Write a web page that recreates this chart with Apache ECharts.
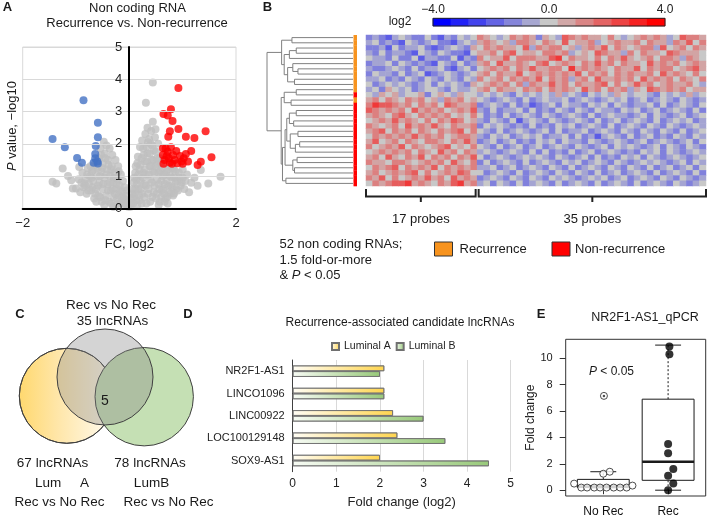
<!DOCTYPE html>
<html><head><meta charset="utf-8">
<script src="https://cdn.jsdelivr.net/npm/echarts@6/dist/echarts.min.js"></script>
<style>html,body{margin:0;padding:0;background:#fff}#c{width:709px;height:522px}</style>
</head><body><div id="c"></div>
<script>
const FONT = '"Liberation Sans", Arial, Helvetica, sans-serif';

// ---------------- Panel A: volcano ----------------
const volcanoGray = [
[-0.02,0.05],[-0.04,0.2],[-0.06,0.4],[-0.08,0.12],[-0.09,0.65],[-0.1,0.3],[-0.12,0.85],[-0.13,0.5],[-0.15,0.2],[-0.16,1.05],[-0.18,0.7],[-0.2,0.4],[-0.21,1.3],[-0.22,0.9],[-0.24,0.12],[-0.25,0.6],[-0.26,1.5],[-0.28,1.1],[-0.3,0.35],[-0.3,0.8],[-0.32,1.65],[-0.33,1.3],[-0.35,0.55],[-0.36,1.0],[-0.37,1.85],[-0.38,0.2],[-0.4,1.5],[-0.41,0.75],[-0.42,1.2],[-0.43,1.95],[-0.44,0.4],[-0.46,1.7],[-0.47,0.95],[-0.48,2.06],[-0.5,1.4],[-0.5,0.6],[-0.52,0.2],[-0.53,1.15],[-0.54,1.85],[-0.56,0.8],[-0.57,1.55],[-0.58,0.4],[-0.6,1.25],[-0.61,1.0],[-0.63,0.6],[-0.65,1.35],[-0.66,0.3],[-0.68,0.85],[-0.7,1.15],[-0.72,0.55],[-0.74,1.0],[-0.76,0.75],[-0.78,1.25],[-0.8,0.45],[-0.82,0.9],[-0.86,0.65],[-0.88,1.1],
[-0.05,0.55],[-0.07,0.25],[-0.11,0.15],[-0.14,0.35],[-0.17,0.55],[-0.19,0.15],[-0.2,1.15],[-0.23,0.3],[-0.24,0.75],[-0.27,0.45],[-0.29,0.95],[-0.31,0.6],[-0.34,1.2],[-0.34,0.15],[-0.36,0.8],[-0.39,1.35],[-0.4,0.55],[-0.43,1.05],[-0.45,0.25],[-0.45,1.55],[-0.49,0.75],[-0.51,1.25],[-0.53,1.65],[-0.55,0.35],[-0.55,1.0],[-0.59,0.7],[-0.62,1.45],[-0.64,0.45],[-0.67,1.2],[-0.69,0.65],[-0.71,0.95],[-0.73,1.3],[-0.77,0.55],[-0.79,1.05],[-0.83,0.7],[-0.9,0.8],[-0.62,0.2],[-0.47,0.1],[-0.3,0.05],
[-1.44,0.82],[-1.37,0.77],[-1.25,1.23],[-1.09,0.87],[-1.06,0.61],[-1.0,0.61],[-0.94,1.28],[-0.84,0.77],[-0.95,0.9],[-1.15,1.0],[-0.92,0.5],
[0.02,0.05],[0.04,0.3],[0.06,0.6],[0.07,0.15],[0.09,0.95],[0.1,0.45],[0.12,1.3],[0.13,0.25],[0.14,0.75],[0.16,1.6],[0.17,1.05],[0.18,0.4],[0.2,1.9],[0.21,1.35],[0.22,0.6],[0.23,0.15],[0.24,2.1],[0.25,0.95],[0.27,1.65],[0.28,0.35],[0.29,1.2],[0.3,2.3],[0.31,0.7],[0.32,1.9],[0.33,1.45],[0.34,2.5],[0.35,0.45],[0.36,1.05],[0.37,2.15],[0.38,1.7],[0.39,0.2],[0.4,1.3],[0.41,2.4],[0.42,0.8],[0.43,1.95],[0.44,2.68],[0.45,1.5],[0.46,0.5],[0.47,1.1],[0.48,2.2],[0.5,1.75],[0.5,0.3],[0.52,0.9],[0.53,1.35],[0.54,2.0],[0.56,0.6],[0.57,1.55],[0.58,1.15],[0.6,0.35],[0.6,0.85],[0.62,1.25],[0.64,0.6],[0.66,1.05],[0.68,0.3],[0.7,0.85],[0.72,1.2],[0.74,0.5],[0.76,1.0],[0.78,0.7],[0.8,1.25],[0.82,0.4],[0.84,0.95],[0.86,1.15],[0.88,0.6],[0.9,0.85],[0.93,1.1],[0.96,0.7],
[0.03,0.15],[0.05,0.45],[0.08,0.35],[0.08,0.8],[0.11,0.6],[0.11,1.1],[0.13,0.9],[0.15,0.1],[0.15,1.4],[0.17,0.6],[0.19,1.2],[0.19,0.25],[0.21,0.85],[0.23,1.55],[0.24,0.45],[0.26,1.85],[0.26,1.1],[0.28,0.75],[0.29,1.45],[0.31,1.05],[0.32,0.15],[0.34,1.7],[0.35,2.05],[0.36,0.6],[0.38,1.3],[0.39,0.9],[0.4,2.0],[0.42,1.5],[0.43,0.35],[0.44,1.15],[0.46,1.8],[0.47,0.7],[0.49,1.3],[0.49,2.45],[0.51,0.45],[0.52,1.55],[0.55,0.75],[0.55,1.1],[0.57,0.2],[0.59,1.4],[0.61,0.55],[0.63,1.0],[0.65,0.45],[0.67,0.75],[0.69,1.1],[0.71,0.35],[0.73,0.7],[0.75,1.3],[0.77,0.45],[0.79,0.95],[0.81,0.65],[0.83,1.2],[0.87,0.85],[0.91,0.55],[0.94,0.95],[0.98,0.8],[1.05,0.85],[0.55,0.1],[0.72,0.15],
[0.44,3.9],[0.31,3.27],
[1.71,0.98],[1.48,0.77],[1.16,0.79],[1.0,0.95],[1.03,0.6],[1.34,1.19],[1.08,1.05],[0.84,0.46],[0.66,0.2],[1.12,0.5],[1.22,0.95],[1.28,0.7],[1.0,1.2]
];
const volcanoBlue = [[-0.86,3.35],[-0.59,2.65],[-0.59,2.2],[-1.44,2.15],[-1.21,1.89],[-0.63,1.93],[-0.98,1.56],[-0.89,1.41],[-0.64,1.68],[-0.67,1.41],[-0.59,1.39],[-0.64,1.55],[-0.6,1.45]];
const volcanoRed = [[0.92,3.73],[0.78,3.07],[0.64,2.92],[0.72,2.88],[0.81,2.71],[0.92,2.46],[0.76,2.39],[0.73,2.22],[1.06,2.22],[1.22,2.18],[1.43,2.39],[0.63,1.86],[0.78,1.89],[1.16,1.78],[1.54,1.58],[1.34,1.44],[1.28,1.34],
[0.63,1.65],[0.66,1.5],[0.64,1.38],[0.72,1.75],[0.74,1.55],[0.76,1.42],[0.82,1.65],[0.85,1.5],[0.9,1.4],[0.95,1.62],[0.98,1.45],[1.02,1.55],[1.06,1.68],[1.1,1.45],[0.7,1.62],[0.88,1.78],[0.68,1.85],[1.0,1.38],[0.8,1.38]];

// ---------------- Panel B: heatmap ----------------
// digit d -> log2 value (d-4)*0.72 ; left block = 17 probes, right block = 35 probes
const heatLeft = [
"23213 43224 21324 34","34232 14323 42213 43","22314 23342 12343 25","32423 32143 24322 14",
"43324 22413 32241 32","23342 43232 14324 23","32234 32423 34213 42","24332 42341 23432 34",
"33423 24324 32432 43","42343 43234 24343 25","34254 34234 43243 34","43545 34452 45435 44",
"56465 46564 53656 45","68776 56465 64765 56","76565 64756 56456 57","56546 75465 65645 46",
"45657 56546 46576 45","65456 47565 75465 56","56746 56465 46567 46","46565 65756 56456 65",
"57456 46546 65465 75","64565 74654 56745 46","45656 56465 47564 65","56475 46574 65646 57",
"65546 65456 56475 46","46567 46565 74656 56","56456 56746 45657 64","65746 45657 56475 65",
"46567 78565 46578 56"];
const heatRight = [
"65434 65652 54376 56554 64345 65653 47665","56545 36654 65474 55634 56556 46553 65746",
"46565 54736 56645 35657 46545 66374 56465","55646 74554 66563 45476 55364 65547 65554",
"64557 46665 57846 55464 65754 56466 53654","56475 56546 74565 46575 64655 47565 64565",
"45656 46575 56648 56565 46557 46566 45675","56465 57456 56565 74656 46565 56475 65464",
"64564 65657 46563 56475 56564 75656 46546","45656 46365 57564 65567 46457 56456 55643",
"56465 54656 46565 47564 65635 47656 56455","34343 24343 43534 32434 35434 43243 43534",
"43234 32423 43342 34323 43423 42343 24323","23432 42312 34243 32434 24323 34242 34324",
"32423 34242 32432 43243 32434 23423 43242","42324 23432 43234 32423 43323 42432 34234",
"32432 41343 24323 43242 34234 32423 43423","24343 23242 32434 23432 42343 24324 32343",
"43242 34323 42423 34234 32432 43243 24234","32434 23434 23342 42313 43242 34232 43243",
"23423 42324 34243 32432 34323 42343 23424","43242 34234 23432 43234 24343 23424 32432",
"34323 43242 42324 23423 43232 43424 32343","42343 23434 32432 34242 32434 24323 43234",
"24234 32423 43243 42343 24323 43432 34243","33423 42343 24324 23432 43243 24234 23424",
"42343 24234 32432 43242 34234 32423 43242","23432 43243 24343 23434 23423 43243 24323",
"34243 24234 32423 43242 34324 23432 43234"];
const rowGroups = "RRRRRRRRRRRNRNNNNNNNNNNNNNNNN"; // R = Recurrence, N = Non-recurrence
const dendroTree = [1.0,
  [0.83, [0.71,0,1], [0.8,[0.74,[0.66,2,3],4],[0.76,[0.7,5,[0.64,6,7]],[0.68,8,9]]]],
  [0.835, [0.8,[0.66,10,11],[0.72,12,13]],
    [0.82,[0.79,[0.77,[0.74,[0.66,14,15],[0.69,16,17]],[0.73,[0.64,18,19],[0.67,[0.62,20,21],22]]],[0.7,[0.65,23,24],[0.68,25,26]]],[0.78,27,28]]]];
const colorbarSteps = 13;
const probeGroups = [["17 probes", 0, 16], ["35 probes", 17, 51]];

// ---------------- Panel C: Venn ----------------
const vennCircles = [ // [cx, cy, r] in panel units, drawing order
  [66.8, 105.8, 47.5, 'LumA'],
  [144.2, 106.7, 49.2, 'LumB'],
  [105, 87, 48, 'RecNoRec']];

// ---------------- Panel D: bars ----------------
const dCategories = ['NR2F1-AS1','LINCO1096','LINC00922','LOC100129148','SOX9-AS1'];
const lumA = [2.1, 2.1, 2.3, 2.4, 2.0];
const lumB = [2.0, 2.1, 3.0, 3.5, 4.5];

// ---------------- Panel E: box plot ----------------
const eCategories = ['No Rec', 'Rec'];
const noRecX = [0.55,0.66,0.75,0.86,0.95,1.05,1.16,1.26,1.36,1.45,1.0,1.1,1.01];
const noRecY = [0.5,0.2,0.2,0.2,0.2,0.2,0.2,0.2,0.2,0.35,1.25,1.4,7.15];
const recX = [2.02,2.02,2.0,2.0,2.08,2.0,2.08,2.0];
const recY = [10.9,10.3,3.5,2.8,1.6,1.1,0.5,0.0];
const boxStats = [[1,0.18,0.2,0.28,0.82,1.4],[2,0.0,0.75,2.15,6.9,11.0]]; // [x,min,q1,med,q3,max]
const eYTicks = [0,2,4,6,8,10];

// ---------------- build ----------------
const chart = echarts.init(document.getElementById('c'), null, {renderer:'canvas'});

const heatData = [];
for (let r = 0; r < heatLeft.length; r++) {
  const s = (heatLeft[r] + heatRight[r]).replace(/\s/g,'').padEnd(52,'4').slice(0,52);
  for (let c = 0; c < 52; c++) heatData.push([c, r, (parseInt(s[c]) - 4) * 0.72]);
}
const cbData = [];
for (let i = 0; i < colorbarSteps; i++) cbData.push([i, 0, -4 + 8 * i / (colorbarSteps - 1)]);

const dendroLines = [];
function walk(n) {
  if (typeof n === 'number') return {h: 0, y: n};
  const a = walk(n[1]), b = walk(n[2]);
  dendroLines.push({coords: [[a.h, a.y],[n[0], a.y],[n[0], b.y],[b.h, b.y]]});
  return {h: n[0], y: (a.y + b.y) / 2};
}
walk(dendroTree);

const rowIdx = [...Array(rowGroups.length).keys()];
const colIdx = [...Array(52).keys()];
const hidden = {show:false};
const hid = (o) => Object.assign({axisLine:hidden, axisTick:hidden, axisLabel:hidden, splitLine:hidden}, o);

const option = {
  animation: false,
  textStyle: {fontFamily: FONT},
  grid: [
    {left:22.7, top:47, width:213.3, height:161.3, show:true, borderColor:'#d9d9d9', borderWidth:1}, // 0 A
    {left:267, top:35, width:86, height:151},      // 1 dendro
    {left:353.5, top:35, width:3.5, height:151},   // 2 side bar
    {left:366, top:35, width:340, height:151},     // 3 heatmap
    {left:433, top:18.3, width:232, height:7.7, show:true, borderColor:'#222', borderWidth:1, z:10}, // 4 colorbar
    {left:0, top:290, width:250, height:232},      // 5 venn
    {left:292.7, top:360, width:218, height:111.7},// 6 D
    {left:565.7, top:339.3, width:140, height:156.7, show:true, borderColor:'#333', borderWidth:1} // 7 E
  ],
  xAxis: [
    {gridIndex:0, type:'value', min:-2, max:2, interval:2, z:10,
      axisLine:{onZero:true, lineStyle:{color:'#000', width:2}}, axisTick:hidden, splitLine:hidden,
      axisLabel:{fontSize:13, color:'#222', margin:9, formatter: v => v < 0 ? '\u2212' + Math.abs(v) : String(v)},
      name:'FC, log2', nameLocation:'middle', nameGap:30, nameTextStyle:{fontSize:13, color:'#222'}},
    hid({gridIndex:1, type:'value', min:0, max:1, inverse:true}),
    hid({gridIndex:2, type:'category', data:['g']}),
    hid({gridIndex:3, type:'category', data:colIdx}),
    hid({gridIndex:4, type:'category', data:[...Array(colorbarSteps).keys()]}),
    {gridIndex:4, type:'value', min:-4, max:4, interval:4, position:'top', axisLine:hidden, axisTick:hidden, splitLine:hidden,
      axisLabel:{fontSize:12, color:'#222', margin:3, formatter: v => (v < 0 ? '\u2212' + Math.abs(v).toFixed(1) : v.toFixed(1))}},
    hid({gridIndex:5, type:'value', min:0, max:250}),
    {gridIndex:6, type:'value', min:0, max:5, interval:1, axisLine:hidden, axisTick:hidden,
      splitLine:{show:true, lineStyle:{color:'#d9d9d9', width:1}},
      axisLabel:{fontSize:12, color:'#222', margin:6},
      name:'Fold change (log2)', nameLocation:'middle', nameGap:24, nameTextStyle:{fontSize:13, color:'#222'}},
    {gridIndex:7, type:'value', min:0.42, max:2.58, axisLine:hidden, splitLine:hidden,
      axisTick:{show:true, customValues:[1,2], length:4, lineStyle:{color:'#333'}},
      axisLabel:{customValues:[1,2], fontSize:12, color:'#111', margin:10, formatter: v => eCategories[Math.round(v)-1] || ''}}
  ],
  yAxis: [
    {gridIndex:0, type:'value', min:0, max:5, interval:1, z:10, offset:-105.6,
      axisLine:{show:true, onZero:false, lineStyle:{color:'#000', width:2}}, axisTick:hidden,
      splitLine:{show:true, lineStyle:{color:'#d9d9d9', width:1}},
      axisLabel:{fontSize:13, color:'#222', margin:6}},
    hid({gridIndex:1, type:'value', min:-0.5, max:rowGroups.length - 0.5, inverse:true}),
    hid({gridIndex:2, type:'category', data:rowIdx, inverse:true}),
    hid({gridIndex:3, type:'category', data:rowIdx, inverse:true}),
    hid({gridIndex:4, type:'category', data:['c']}),
    hid({gridIndex:5, type:'value', min:0, max:232, inverse:true}),
    {gridIndex:6, type:'category', data:dCategories, inverse:true,
      axisLine:{show:true, lineStyle:{color:'#404040', width:1}}, axisTick:hidden,
      axisLabel:{fontSize:11, color:'#222', margin:8}},
    {gridIndex:7, type:'value', min:-0.44, max:11.44, axisLine:hidden, splitLine:hidden,
      axisTick:{show:true, customValues:eYTicks, length:6, lineStyle:{color:'#333'}},
      axisLabel:{customValues:eYTicks, fontSize:11, color:'#222', margin:13},
      name:'Fold change', nameLocation:'middle', nameGap:22, nameTextStyle:{fontSize:12, color:'#222'}}
  ],
  visualMap: [{type:'continuous', show:false, min:-4, max:4, seriesIndex:[5,6], dimension:2,
    inRange:{color:['#0000ff','#c8c8c8','#ff0000']}}],
  legend: {data:['Luminal A','Luminal B'], left:326, top:336, itemWidth:7, itemHeight:7, itemGap:5,
    textStyle:{fontSize:10.5, color:'#222'}, icon:'rect'},
  series: [
    {type:'scatter', xAxisIndex:0, yAxisIndex:0, data:volcanoGray, symbolSize:8, clip:false, itemStyle:{color:'#bfbfbf'}},
    {type:'scatter', xAxisIndex:0, yAxisIndex:0, data:volcanoBlue, symbolSize:8, clip:false, itemStyle:{color:'#4472c4'}},
    {type:'scatter', xAxisIndex:0, yAxisIndex:0, data:volcanoRed, symbolSize:8, clip:false, itemStyle:{color:'#ff0000'}},
    {type:'lines', coordinateSystem:'cartesian2d', xAxisIndex:1, yAxisIndex:1, polyline:true, data:dendroLines,
      lineStyle:{color:'#808080', width:1, opacity:1}},
    {type:'custom', xAxisIndex:2, yAxisIndex:2, data: rowIdx.map(i => [0, i, rowGroups[i] === 'R' ? 0 : 1]),
      renderItem: (params, api) => {
        const p = api.coord([0, api.value(1)]); const s = api.size([1, 1]);
        return {type:'rect', shape:{x:p[0]-s[0]/2, y:p[1]-s[1]/2, width:s[0], height:s[1]+0.3},
          style:{fill: api.value(2) === 0 ? '#f7931e' : '#ff0000'}};
      }},
    {type:'heatmap', xAxisIndex:3, yAxisIndex:3, data:heatData, itemStyle:{borderWidth:0}},
    {type:'heatmap', xAxisIndex:4, yAxisIndex:4, data:cbData, itemStyle:{borderWidth:0}},
    {type:'custom', xAxisIndex:6, yAxisIndex:5, data: vennCircles.map(c => [c[0], c[1], c[2]]),
      renderItem: (params, api) => {
        const c = api.coord([api.value(0), api.value(1)]);
        const r = api.size([api.value(2), 0])[0];
        const fills = [
          {type:'linear', x:0, y:0, x2:1, y2:0, colorStops:[{offset:0,color:'#ffd86e'},{offset:0.4,color:'#ffe6a8'},{offset:1,color:'#fffcf4'}]},
          '#c5e0b4',
          'rgba(128,128,128,0.34)'];
        return {type:'circle', shape:{cx:c[0], cy:c[1], r:r},
          style:{fill: fills[params.dataIndex], stroke:'#404040', lineWidth:1}};
      }},
    {type:'bar', name:'Luminal A', xAxisIndex:7, yAxisIndex:6, data:lumA, barWidth:5.7, barGap:'0%',
      itemStyle:{color:{type:'linear', x:0, y:0, x2:1, y2:0, colorStops:[{offset:0,color:'#fffdf5'},{offset:1,color:'#ffd54f'}]},
        borderColor:'#707070', borderWidth:0.8}},
    {type:'bar', name:'Luminal B', xAxisIndex:7, yAxisIndex:6, data:lumB, barWidth:5.7, barGap:'0%',
      itemStyle:{color:{type:'linear', x:0, y:0, x2:1, y2:0, colorStops:[{offset:0,color:'#f7fbf4'},{offset:1,color:'#98c97a'}]},
        borderColor:'#707070', borderWidth:0.8}},
    {type:'custom', xAxisIndex:8, yAxisIndex:7, data:boxStats, z:3,
      renderItem: (params, api) => {
        const x = api.value(0), mn = api.value(1), q1 = api.value(2), md = api.value(3), q3 = api.value(4), mx = api.value(5);
        const P = (a, b) => api.coord([a, b]);
        const ln = (a, b, dash, w) => ({type:'line', shape:{x1:a[0], y1:a[1], x2:b[0], y2:b[1]},
          style:{stroke:'#1a1a1a', lineWidth:w || 1, lineDash: dash ? [2, 2] : null}});
        const tl = P(x - 0.4, q3), br = P(x + 0.4, q1);
        return {type:'group', children:[
          ln(P(x, q3), P(x, mx), true), ln(P(x, q1), P(x, mn), true),
          ln(P(x - 0.2, mx), P(x + 0.2, mx)), ln(P(x - 0.2, mn), P(x + 0.2, mn)),
          {type:'rect', shape:{x:tl[0], y:tl[1], width:br[0]-tl[0], height:br[1]-tl[1]}, style:{fill:'#fff', stroke:'#1a1a1a', lineWidth:1}},
          ln(P(x - 0.4, md), P(x + 0.4, md), false, 2.5)]};
      }},
    {type:'scatter', xAxisIndex:8, yAxisIndex:7, z:4, data: noRecX.map((x, i) => [x, noRecY[i]]), symbolSize:7,
      itemStyle:{color:'#fff', borderColor:'#222', borderWidth:1}},
    {type:'scatter', xAxisIndex:8, yAxisIndex:7, z:4, data: recX.map((x, i) => [x, recY[i]]), symbolSize:8,
      itemStyle:{color:'#000'}},
    {type:'scatter', xAxisIndex:8, yAxisIndex:7, z:5, data: [[noRecX[12], noRecY[12]]], symbolSize:2.5,
      itemStyle:{color:'#222'}}
  ]
};
chart.setOption(option);

function T(text, x, y, o) {
  o = o || {};
  const st = {text: text, fontSize: o.size || 13, fontFamily: FONT, fontWeight: o.bold ? 'bold' : 'normal',
    fill: o.color || '#1a1a1a', align: o.align || 'center', verticalAlign: 'middle',
    textAlign: o.align || 'center', textVerticalAlign: 'middle'};
  if (o.rich) st.rich = o.rich;
  return {type:'text', x: x, y: y, rotation: o.rot || 0, z: 100, style: st};
}
const ital = (s) => ({i: {fontStyle:'italic', fontSize: s, fontFamily: FONT, fill:'#1a1a1a'}, n: {fontSize: s, fontFamily: FONT, fill:'#1a1a1a'}});

const g = [];
g.push(T('A', 7.5, 7.5, {bold:true, size:13}));
g.push(T('B', 267.5, 7.5, {bold:true, size:13}));
g.push(T('C', 20, 314, {bold:true, size:13}));
g.push(T('D', 188, 314, {bold:true, size:13}));
g.push(T('E', 541, 314, {bold:true, size:13}));
g.push(T('Non coding RNA', 137.5, 8, {size:13}));
g.push(T('Recurrence vs. Non-recurrence', 137, 23.5, {size:13}));
g.push(T('{i|P}{n| value, \u2212log10}', 12, 126, {size:13, rot:Math.PI/2, rich:ital(13)}));
g.push(T('log2', 400, 22, {size:12}));
const a0 = chart.convertToPixel({xAxisIndex:3, yAxisIndex:3}, [0, 0]);
const a1 = chart.convertToPixel({xAxisIndex:3, yAxisIndex:3}, [1, 0]);
const cw = a1[0] - a0[0];
probeGroups.forEach((pg, k) => {
  const L = a0[0] + (pg[1] - 0.5) * cw + (k ? 1.5 : 0), R = a0[0] + (pg[2] + 0.5) * cw - (k ? 0 : 1.5), M = (L + R) / 2;
  g.push({type:'polyline', z:100, shape:{points:[[L,189],[L,196.5],[R,196.5],[R,189]]}, style:{stroke:'#222', lineWidth:2, fill:null}});
  g.push({type:'line', z:100, shape:{x1:M, y1:196.5, x2:M, y2:202}, style:{stroke:'#222', lineWidth:2}});
  g.push(T(pg[0], M, 219, {size:13}));
});
g.push(T('52 non coding RNAs;', 279.5, 244, {align:'left'}));
g.push(T('1.5 fold-or-more', 279.5, 260, {align:'left'}));
g.push(T('{n|& }{i|P}{n| < 0.05}', 279.5, 275.5, {align:'left', rich:ital(13)}));
g.push({type:'rect', z:100, shape:{x:434.5, y:242, width:18, height:14}, style:{fill:'#f7931e', stroke:'#333', lineWidth:1}});
g.push(T('Recurrence', 459.5, 249, {align:'left'}));
g.push({type:'rect', z:100, shape:{x:552, y:242, width:18, height:14}, style:{fill:'#ff0000', stroke:'#333', lineWidth:1}});
g.push(T('Non-recurrence', 575, 249, {align:'left'}));
g.push(T('Rec vs No Rec', 111, 305, {size:13.5}));
g.push(T('35 lncRNAs', 112.5, 321.5, {size:13.5}));
g.push(T('5', 105, 401.5, {size:14}));
g.push(T('67 lncRNAs', 52.5, 463, {size:13.5}));
g.push(T('78 lncRNAs', 150, 463, {size:13.5}));
g.push(T('Lum', 35, 483, {size:13.5, align:'left'}));
g.push(T('A', 80, 483, {size:13.5, align:'left'}));
g.push(T('LumB', 151.5, 483, {size:13.5}));
g.push(T('Rec vs No Rec', 59.5, 502, {size:13.5}));
g.push(T('Rec vs No Rec', 168.5, 502, {size:13.5}));
g.push(T('Recurrence-associated candidate lncRNAs', 400, 323, {size:12}));
g.push(T('NR2F1-AS1_qPCR', 645, 318, {size:12.5}));
g.push(T('{i|P}{n| < 0.05}', 611.5, 371.5, {rich:ital(12), size:12}));
chart.setOption({graphic: g});
</script></body></html>
